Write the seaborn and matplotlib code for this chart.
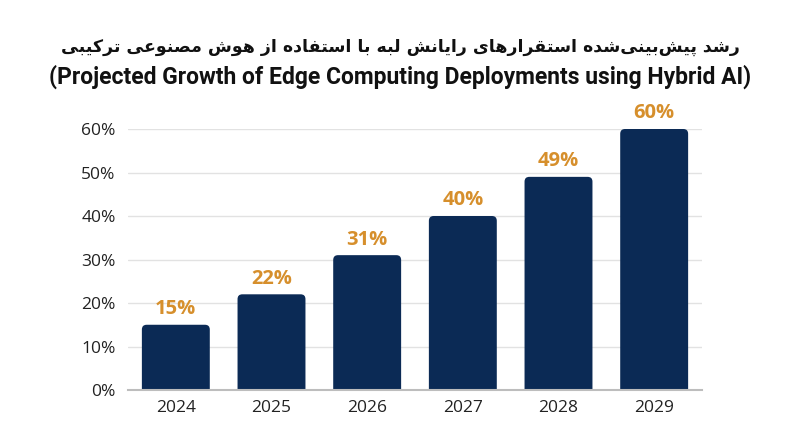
import matplotlib
matplotlib.use("Agg")
import matplotlib.pyplot as plt
import matplotlib.ticker as mtick
from matplotlib.patches import FancyBboxPatch
import seaborn as sns

years = ['2024', '2025', '2026', '2027', '2028', '2029']
growth = [15, 22, 31, 40, 49, 60]
title_fa = 'رشد پیش\u200cبینی\u200cشده استقرارهای رایانش لبه با استفاده از هوش مصنوعی ترکیبی'
title_en = '(Projected Growth of Edge Computing Deployments using Hybrid AI)'

bar_color = '#0B2A55'
label_color = '#D68F2C'

# matplotlib has no arabic shaping, so pick presentation forms by hand
# (isolated, final, initial, medial)
forms = {
    'ا': (0xFE8D, 0xFE8E), 'د': (0xFEA9, 0xFEAA), 'ر': (0xFEAD, 0xFEAE),
    'ز': (0xFEAF, 0xFEB0), 'و': (0xFEED, 0xFEEE),
    'ب': (0xFE8F, 0xFE90, 0xFE91, 0xFE92), 'پ': (0xFB56, 0xFB57, 0xFB58, 0xFB59),
    'ت': (0xFE95, 0xFE96, 0xFE97, 0xFE98), 'س': (0xFEB1, 0xFEB2, 0xFEB3, 0xFEB4),
    'ش': (0xFEB5, 0xFEB6, 0xFEB7, 0xFEB8), 'ص': (0xFEB9, 0xFEBA, 0xFEBB, 0xFEBC),
    'ع': (0xFEC9, 0xFECA, 0xFECB, 0xFECC), 'ف': (0xFED1, 0xFED2, 0xFED3, 0xFED4),
    'ق': (0xFED5, 0xFED6, 0xFED7, 0xFED8), 'ک': (0xFB8E, 0xFB8F, 0xFB90, 0xFB91),
    'ل': (0xFEDD, 0xFEDE, 0xFEDF, 0xFEE0), 'م': (0xFEE1, 0xFEE2, 0xFEE3, 0xFEE4),
    'ن': (0xFEE5, 0xFEE6, 0xFEE7, 0xFEE8), 'ه': (0xFEE9, 0xFEEA, 0xFEEB, 0xFEEC),
    'ی': (0xFBFC, 0xFBFD, 0xFBFE, 0xFBFF),
}


def shape(text):
    out = []
    for i, ch in enumerate(text):
        if ch not in forms:
            if ch != '\u200c':
                out.append(ch)
            continue
        prev = text[i - 1] if i > 0 else ''
        nxt = text[i + 1] if i + 1 < len(text) else ''
        join_prev = prev in forms and len(forms[prev]) == 4
        join_next = nxt in forms and len(forms[ch]) == 4
        f = forms[ch]
        if join_prev and join_next:
            out.append(chr(f[3]))
        elif join_prev:
            out.append(chr(f[1]))
        elif join_next:
            out.append(chr(f[2]))
        else:
            out.append(chr(f[0]))
    return ''.join(out)[::-1]


sns.set_style("white")
plt.rcParams['font.family'] = ['Open Sans', 'DejaVu Sans']

fig = plt.figure(figsize=(8, 4.47), dpi=100)
ax = fig.add_axes([0.16, 0.1275, 0.7175, 0.5839])

sns.barplot(x=years, y=growth, color=bar_color, saturation=1, width=0.71, ax=ax, zorder=3)

for c in ax.containers:
    ax.bar_label(c, labels=[f'{v}%' for v in growth], padding=4, color=label_color,
                 fontsize=14.5, fontweight='bold', clip_on=False)

# swap plain bars for ones with rounded top corners
for bar in list(ax.patches):
    x, w, h = bar.get_x(), bar.get_width(), bar.get_height()
    bar.set_visible(False)
    ax.add_patch(FancyBboxPatch((x, -2), w, h + 2,
                                boxstyle="round,pad=0,rounding_size=0.05",
                                mutation_aspect=22, facecolor=bar_color,
                                edgecolor='none', zorder=3))

ax.set_ylim(0, 60)
ax.set_xlim(-0.5, 5.5)
ax.set_yticks([0, 10, 20, 30, 40, 50, 60])
ax.yaxis.set_major_formatter(mtick.PercentFormatter(xmax=100, decimals=0))
ax.grid(axis='y', color='#e2e2e2', linewidth=1, zorder=0)
ax.set_axisbelow(True)
for s in ['top', 'right', 'left']:
    ax.spines[s].set_visible(False)
ax.spines['bottom'].set_color('#bdbdbd')
ax.spines['bottom'].set_linewidth(1.5)
ax.spines['bottom'].set_zorder(4)
ax.tick_params(axis='both', length=0, labelsize=12.5, labelcolor='#222222')
ax.tick_params(axis='y', pad=9)
ax.tick_params(axis='x', pad=7)
ax.set_xlabel('')
ax.set_ylabel('')

fig.text(0.5, 0.895, shape(title_fa), ha='center', va='center', fontsize=12.5,
         fontweight='bold', family='DejaVu Sans', color='#111111')
fig.text(0.5, 0.828, title_en, ha='center', va='center', fontsize=16.5,
         fontweight='bold', family='Roboto', color='#111111')

fig.savefig('out.png', dpi=100)
